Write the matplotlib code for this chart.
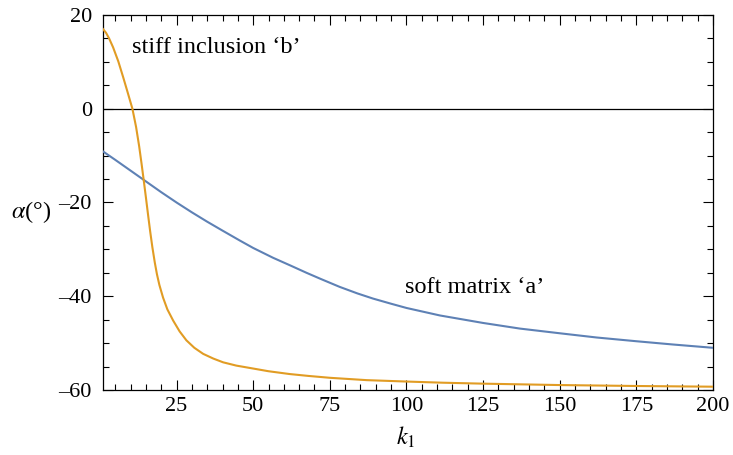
import matplotlib
matplotlib.use("Agg")
import matplotlib.pyplot as plt
from matplotlib.ticker import MultipleLocator

# Orientation angle alpha (degrees) against k1 for the two phases
k_soft = [1, 5, 10, 15, 20, 25, 30, 35, 40, 45.6, 50, 56.5, 62, 67.4, 72, 78.2, 84, 89.1, 95, 100,
          110.9, 125, 137, 150, 162, 175, 187, 200]
alpha_soft = [-9.1, -10.9, -13.2, -15.5, -17.8, -20.0, -22.1, -24.1, -26.0, -28.1, -29.7, -31.8, -33.4,
              -35.0, -36.3, -38.0, -39.4, -40.5, -41.6, -42.5, -44.1, -45.7, -46.9, -47.9, -48.8,
              -49.6, -50.3, -51.0]

k_stiff = [1, 2, 3, 4.3, 6, 7.6, 9, 10.6, 11.8, 12.8, 13.6, 14.3, 15.0, 15.7, 16.4, 17.1, 17.9, 18.6,
           19.4, 20.6, 22.0, 23.9, 26.0, 28.2, 30.8, 33.7, 37, 40.2, 44.5, 48.9, 55, 61.9, 68, 75, 87,
           100, 112, 125, 150, 175, 200]
alpha_stiff = [17.0, 16.2, 15.0, 13.1, 10.1, 6.7, 3.6, 0.0, -3.9, -8.0, -11.8, -15.3, -18.9, -22.6,
               -26.2, -29.5, -32.8, -35.3, -37.6, -40.3, -42.8, -45.2, -47.5, -49.4, -51.0, -52.3,
               -53.3, -54.1, -54.8, -55.3, -56.0, -56.6, -57.0, -57.4, -57.9, -58.2, -58.45, -58.65,
               -58.95, -59.15, -59.3]

x_ticks = [25, 50, 75, 100, 125, 150, 175, 200]
y_ticks = [-60, -40, -20, 0, 20]

plt.rcParams["font.family"] = ["Liberation Serif", "DejaVu Serif"]
plt.rcParams["mathtext.fontset"] = "stix"

fig = plt.figure(figsize=(7.33, 4.55), dpi=100)
ax = fig.add_axes([0.1405, 0.1429, 0.8322, 0.8241])

ax.axhline(0, color="black", lw=0.9, zorder=1)
ax.plot(k_soft, alpha_soft, color="#5E81B5", lw=1.5, zorder=3)
ax.plot(k_stiff, alpha_stiff, color="#E19C24", lw=1.5, zorder=3)

ax.set_xlim(1, 200)
ax.set_ylim(-60, 20)
ax.set_xticks(x_ticks)
ax.set_yticks(y_ticks)
ax.set_yticklabels([("\u2013" + str(-v)) if v < 0 else str(v) for v in y_ticks])
ax.xaxis.set_minor_locator(MultipleLocator(5))
ax.yaxis.set_minor_locator(MultipleLocator(5))
ax.tick_params(which="both", direction="in", top=True, right=True, labelsize=16, width=0.8)
ax.tick_params(which="major", length=7)
ax.tick_params(which="minor", length=4)
ax.tick_params(axis="x", which="major", pad=5)
ax.tick_params(axis="y", which="major", pad=8)
for s in ax.spines.values():
    s.set_linewidth(0.9)

ax.text(10.4, 13, "stiff inclusion \u2018b\u2019", fontsize=17.5, va="center", ha="left")
ax.text(99.4, -38.2, "soft matrix \u2018a\u2019", fontsize=17.5, va="center", ha="left")

fig.text(31 / 733, 1 - 212 / 455, "$\\alpha$(\u00b0)", fontsize=17.5, ha="center", va="center")
fig.text(406 / 733, 1 - 437 / 455, r"$k_1$", fontsize=17.5, ha="center", va="center")

fig.savefig("out.png", dpi=100)
